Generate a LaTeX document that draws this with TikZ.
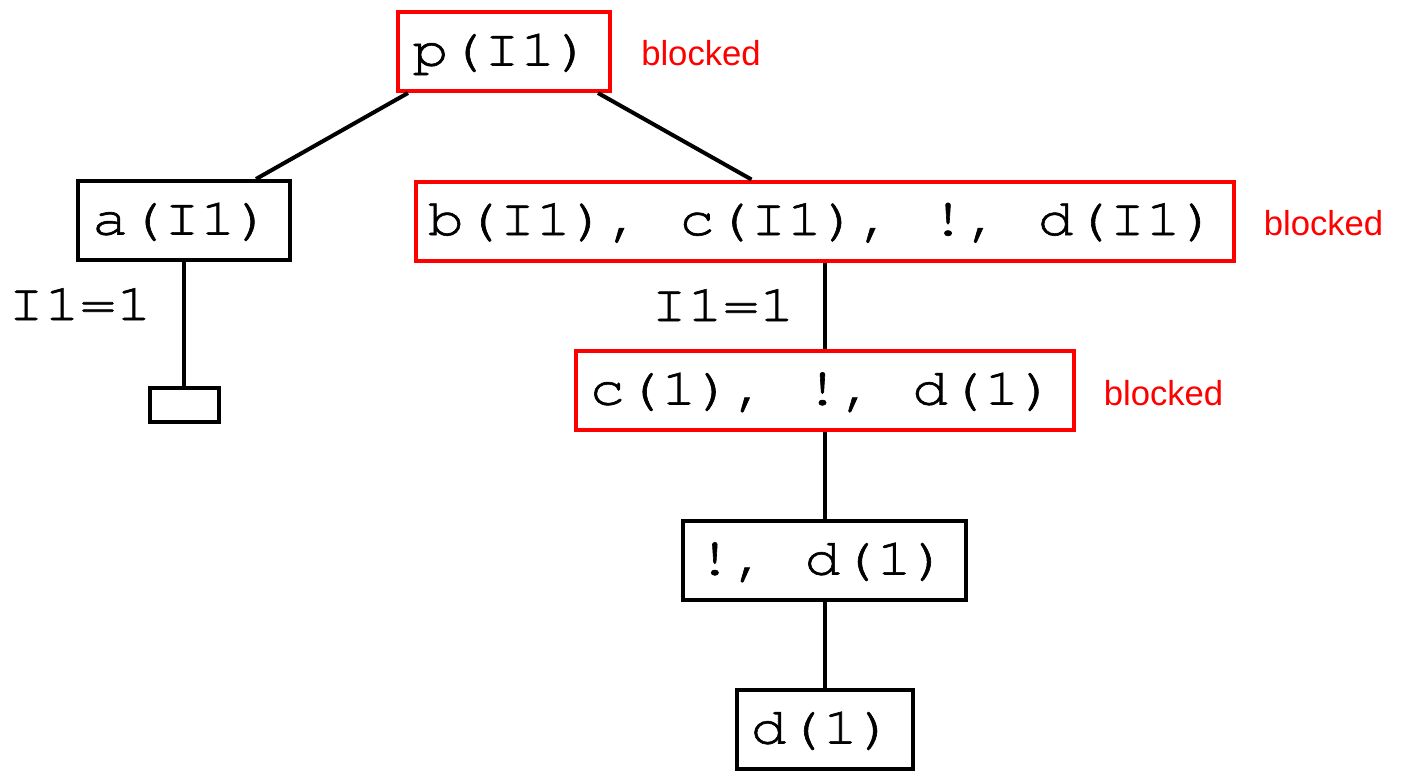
\documentclass[tikz,border=0pt]{standalone}
\usepackage{fontspec}
\setmainfont{Liberation Sans}
\newfontfamily\monof[FakeStretch=1.15,FakeBold=1.2]{TeX Gyre Cursor}
\begin{document}
\begin{tikzpicture}[x=0.75pt,y=-0.75pt,
  box/.style={draw=black, line width=3pt, inner sep=0pt, minimum height=59.25pt,
    text height=21pt, text depth=0pt, font=\monof\fontsize{39}{44}\selectfont,
    execute at end node={\kern3pt}},
  rbox/.style={box, draw=red},
  lab/.style={inner sep=0pt, font=\monof\fontsize{39}{44}\selectfont, anchor=base west},
  blk/.style={inner sep=0pt, text=red, font=\fontsize{26}{30}\selectfont, anchor=base west},
  edge/.style={line width=3pt}]
\useasboundingbox (0,0) rectangle (1406,771);

\node[rbox, minimum width=159pt] (p) at (504,51.5) {p(I1)};
\node[box,  minimum width=159pt] (a) at (184,220.5) {a(I1)};
\node[rbox, minimum width=613.5pt] (b) at (824.5,221) {b(I1), c(I1), !, d(I1)};
\node[rbox, minimum width=373.5pt] (c) at (824.5,390.5) {c(1), !, d(1)};
\node[box,  minimum width=212.25pt] (e) at (824.5,560.5) {!, d(1)};
\node[box,  minimum width=132pt] (f) at (824.5,729.5) {d(1)};
\node[draw=black, line width=3pt, inner sep=0pt, minimum width=51.75pt, minimum height=25.5pt] (g) at (184,405) {};

\node[lab] (l1) at (8,320) {I1=1};
\node[lab] (l2) at (651,321) {I1=1};

\node[blk] (pb) at ([shift={(29,13.5)}]p.east) {blocked};
\node[blk] (bb) at ([shift={(28,14)}]b.east) {blocked};
\node[blk] (cb) at ([shift={(28,14.5)}]c.east) {blocked};

\draw[edge] ([shift={(12,0)}]p.south west) -- ([shift={(180,0)}]a.north west);
\draw[edge] ([shift={(-14,0)}]p.south east) -- ([shift={(338,0)}]b.north west);
\draw[edge] (a.south) -- (g.north);
\draw[edge] (b.south) -- (c.north);
\draw[edge] (c.south) -- (e.north);
\draw[edge] (e.south) -- (f.north);
\end{tikzpicture}
\end{document}
